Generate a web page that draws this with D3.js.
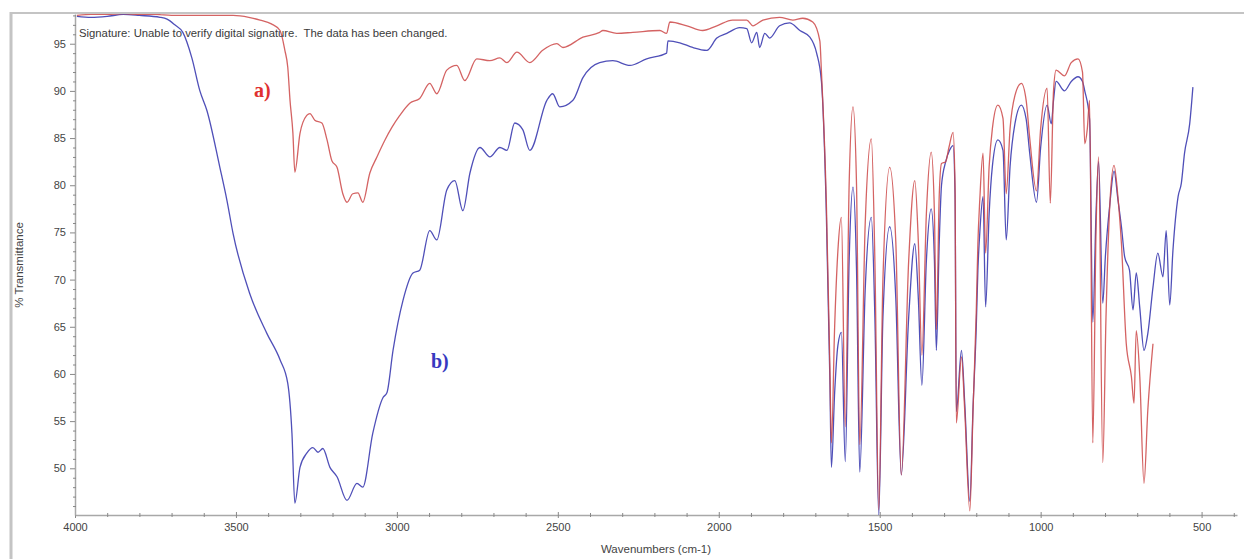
<!DOCTYPE html>
<html>
<head>
<meta charset="utf-8">
<script src="https://cdn.jsdelivr.net/npm/d3@7"></script>
<style>
  body { margin: 0; background: #fff; }
  svg { display: block; }
</style>
</head>
<body>
<div id="chart"></div>
<script>
// spectrum a) - red trace, [wavenumber, %T]
const spectrumA = [
  [3994, 98.0], [3950, 98.1], [3900, 98.1], [3850, 98.2], [3800, 98.1], [3750, 98.1],
  [3700, 98.0], [3600, 98.0], [3509, 98.0], [3460, 97.8], [3425, 97.5], [3390, 97.1],
  [3363, 96.4], [3348, 94.3], [3339, 92.5], [3332, 89.0], [3323, 85.5], [3317, 81.4],
  [3301, 85.5], [3280, 87.4], [3270, 87.6], [3255, 86.9], [3233, 86.6], [3217, 84.8],
  [3202, 82.6], [3186, 81.9], [3168, 79.1], [3155, 78.2], [3137, 79.1], [3121, 79.2],
  [3106, 78.2], [3084, 81.3], [3062, 83.0], [3037, 84.8], [3016, 86.1], [2991, 87.4],
  [2960, 88.7], [2929, 89.2], [2898, 90.8], [2876, 89.7], [2845, 92.2], [2814, 92.7],
  [2789, 91.1], [2752, 93.4], [2711, 93.2], [2680, 93.5], [2658, 93.0], [2627, 94.1],
  [2587, 93.0], [2547, 94.3], [2503, 95.0], [2484, 94.6], [2422, 95.7], [2370, 96.2],
  [2360, 96.4], [2317, 96.1], [2267, 96.2], [2183, 96.4], [2162, 96.1], [2152, 97.3],
  [2099, 96.9], [2050, 96.4], [2006, 96.9], [1957, 97.5], [1913, 97.5], [1894, 96.9],
  [1863, 97.5], [1811, 97.8], [1770, 97.5], [1739, 97.7], [1708, 97.3], [1686, 95.3],
  [1681, 92.0], [1666, 78.5], [1655, 61.0], [1650, 52.7], [1640, 65.0], [1630, 73.0],
  [1619, 76.6], [1607, 54.4], [1595, 80.0], [1583, 88.3], [1572, 80.0], [1562, 52.5],
  [1545, 76.0], [1526, 84.9], [1515, 72.0], [1503, 45.6], [1490, 70.0], [1469, 81.9],
  [1450, 74.0], [1433, 49.3], [1410, 72.0], [1391, 80.5], [1380, 74.0], [1369, 62.0],
  [1355, 77.0], [1340, 83.5], [1330, 77.0], [1324, 64.7], [1315, 79.0], [1308, 82.3],
  [1295, 82.5], [1285, 84.0], [1272, 85.6], [1266, 80.0], [1262, 54.8], [1246, 61.8],
  [1236, 56.2], [1220, 45.5], [1210, 56.2], [1200, 66.7], [1195, 73.8], [1189, 78.5],
  [1179, 83.4], [1171, 72.8], [1160, 82.0], [1150, 86.0], [1133, 88.5], [1117, 87.1],
  [1107, 79.1], [1095, 86.0], [1080, 89.5], [1060, 90.8], [1045, 89.0], [1034, 85.0],
  [1013, 79.4], [1000, 86.0], [980, 90.3], [970, 78.1], [960, 90.0], [952, 92.2],
  [926, 91.6], [905, 93.0], [884, 93.4], [870, 92.0], [863, 84.4], [855, 86.0],
  [848, 89.0], [838, 52.7], [828, 75.0], [820, 83.0], [807, 50.6], [797, 66.0],
  [785, 78.0], [772, 82.1], [760, 78.8], [749, 73.8], [734, 63.2], [718, 59.7],
  [710, 56.9], [703, 64.6], [692, 59.7], [679, 48.4], [667, 56.2], [651, 63.2]
];

// spectrum b) - blue trace, [wavenumber, %T]
const spectrumB = [
  [3994, 97.9], [3950, 97.8], [3900, 97.9], [3850, 98.1], [3800, 98.0], [3736, 97.8],
  [3714, 97.6], [3690, 97.0], [3665, 96.2], [3637, 93.5], [3612, 90.0], [3590, 87.9],
  [3550, 81.9], [3528, 78.4], [3509, 74.9], [3457, 68.5], [3404, 64.3], [3363, 61.5],
  [3339, 59.0], [3326, 53.7], [3317, 46.3], [3301, 50.1], [3280, 51.6], [3261, 52.2],
  [3245, 51.7], [3230, 52.1], [3208, 50.1], [3186, 49.1], [3155, 46.6], [3124, 48.4],
  [3106, 48.0], [3075, 53.7], [3043, 57.5], [3031, 58.0], [3012, 62.5], [2981, 67.8],
  [2950, 70.7], [2929, 71.0], [2898, 75.2], [2876, 74.2], [2845, 79.5], [2820, 80.5],
  [2795, 77.3], [2773, 81.3], [2742, 84.0], [2711, 83.0], [2680, 84.0], [2658, 83.7],
  [2634, 86.6], [2609, 85.9], [2587, 83.7], [2534, 89.0], [2516, 89.7], [2494, 88.3],
  [2453, 89.0], [2422, 91.4], [2370, 93.0], [2329, 93.2], [2276, 92.7], [2224, 93.4],
  [2162, 94.0], [2158, 95.3], [2121, 95.1], [2081, 94.6], [2037, 94.3], [2006, 95.6],
  [1975, 96.1], [1935, 96.7], [1913, 96.6], [1898, 95.1], [1882, 96.2], [1873, 94.6],
  [1857, 96.1], [1842, 95.6], [1811, 96.9], [1780, 97.2], [1748, 96.4], [1717, 95.7],
  [1696, 94.0], [1681, 91.0], [1666, 77.3], [1655, 59.7], [1650, 50.1], [1640, 58.0],
  [1630, 63.0], [1619, 64.4], [1607, 50.7], [1595, 72.0], [1583, 79.8], [1572, 71.0],
  [1562, 49.6], [1545, 69.0], [1526, 76.6], [1515, 66.0], [1503, 45.0], [1490, 66.0],
  [1469, 75.6], [1450, 68.0], [1433, 49.3], [1410, 66.0], [1391, 73.8], [1380, 68.0],
  [1369, 58.8], [1355, 72.0], [1340, 77.5], [1330, 72.0], [1324, 62.5], [1315, 74.0],
  [1308, 80.0], [1295, 82.5], [1283, 83.7], [1272, 84.2], [1266, 79.0], [1262, 56.0],
  [1246, 62.5], [1236, 57.0], [1220, 46.5], [1210, 56.5], [1200, 65.0], [1195, 71.0],
  [1189, 75.0], [1179, 78.8], [1171, 67.1], [1160, 77.0], [1150, 82.0], [1133, 84.8],
  [1117, 83.7], [1107, 74.2], [1095, 82.0], [1080, 86.5], [1060, 88.5], [1045, 87.0],
  [1034, 83.4], [1013, 78.2], [1000, 84.0], [980, 88.5], [967, 86.5], [960, 89.0],
  [952, 91.0], [926, 90.0], [905, 91.0], [884, 91.5], [870, 91.0], [863, 90.0],
  [848, 87.0], [838, 65.5], [828, 77.0], [820, 82.5], [807, 67.5], [799, 72.4],
  [785, 78.0], [772, 81.5], [760, 78.5], [749, 75.6], [739, 72.4], [724, 71.0],
  [713, 66.8], [703, 70.7], [692, 67.0], [679, 62.5], [667, 64.3], [651, 69.2],
  [636, 72.8], [620, 70.3], [610, 75.2], [599, 67.3], [589, 73.1], [573, 78.8],
  [563, 80.2], [553, 83.4], [537, 86.5], [527, 90.4]
];

const xMajor = [4000, 3500, 3000, 2500, 2000, 1500, 1000, 500];
const xMinor = d3.range(4000, 390, -100).filter(v => v % 500 !== 0);
const yMajor = [50, 55, 60, 65, 70, 75, 80, 85, 90, 95];
const yMinor = d3.range(46, 99, 1).filter(v => v % 5 !== 0);

const signatureText = "Signature: Unable to verify digital signature.\u00a0 The data has been changed.";

// set the dimensions
const width = 1244, height = 559;
const plot = {left: 75, right: 1237, top: 14, bottom: 515};
const sans = "'Liberation Sans', Arial, sans-serif";

const svg = d3.select("#chart").append("svg")
  .attr("width", width)
  .attr("height", height);

// panel border
svg.append("line")
  .attr("x1", 10).attr("x2", width).attr("y1", 13).attr("y2", 13)
  .attr("stroke", "#c4c4c4").attr("stroke-width", 2);
svg.append("line")
  .attr("x1", 11).attr("x2", 11).attr("y1", 12).attr("y2", height)
  .attr("stroke", "#c4c4c4").attr("stroke-width", 3);

const x = d3.scaleLinear().domain([4000, 390]).range([plot.left, plot.right]);
const y = d3.scaleLinear().domain([45.05, 98.15]).range([plot.bottom, plot.top]);

svg.append("clipPath").attr("id", "clip")
  .append("rect")
  .attr("x", plot.left).attr("y", plot.top)
  .attr("width", plot.right - plot.left).attr("height", plot.bottom - plot.top);

// x axis
const xAxis = svg.append("g")
  .attr("transform", `translate(0,${plot.bottom})`)
  .call(d3.axisBottom(x).tickValues(xMajor).tickFormat(d3.format("d"))
    .tickSize(3).tickSizeOuter(0).tickPadding(5));
xAxis.selectAll(".tick line").attr("y1", -3);

svg.append("g")
  .attr("transform", `translate(0,${plot.bottom})`)
  .call(d3.axisBottom(x).tickValues(xMinor).tickSize(2).tickFormat(""))
  .call(g => g.select(".domain").remove())
  .selectAll(".tick line").attr("y1", -2);

// y axis
const yAxis = svg.append("g")
  .attr("transform", `translate(${plot.left},0)`)
  .call(d3.axisLeft(y).tickValues(yMajor).tickFormat(d3.format("d"))
    .tickSize(5).tickSizeOuter(0).tickPadding(4));

svg.append("g")
  .attr("transform", `translate(${plot.left},0)`)
  .call(d3.axisLeft(y).tickValues(yMinor).tickSize(2).tickFormat(""))
  .call(g => g.select(".domain").remove())
  .selectAll(".tick line").attr("x1", 1);

svg.selectAll(".domain")
  .attr("stroke", "#a8a8a8")
  .attr("stroke-width", 1.5);
svg.selectAll(".tick line").attr("stroke", "#888");
svg.selectAll(".tick text")
  .attr("fill", "#444")
  .style("font-family", sans)
  .style("font-size", "11px");

// spectra
const line = d3.line()
  .x(d => x(d[0]))
  .y(d => y(d[1]))
  .curve(d3.curveMonotoneX);

const traces = svg.append("g").attr("clip-path", "url(#clip)");

traces.append("path")
  .datum(spectrumB)
  .attr("fill", "none")
  .attr("stroke", "#3c3cb0")
  .attr("stroke-width", 1.3)
  .attr("stroke-opacity", 0.9)
  .attr("d", line);

traces.append("path")
  .datum(spectrumA)
  .attr("fill", "none")
  .attr("stroke", "#cc4848")
  .attr("stroke-width", 1.3)
  .attr("stroke-opacity", 0.85)
  .attr("d", line);

// texts
svg.append("text")
  .attr("x", 79)
  .attr("y", 37)
  .attr("fill", "#3a3a3a")
  .style("font-family", sans)
  .style("font-size", "11.3px")
  .text(signatureText);

svg.append("text")
  .attr("transform", "translate(23,265) rotate(-90)")
  .attr("text-anchor", "middle")
  .attr("fill", "#444")
  .style("font-family", sans)
  .style("font-size", "11.5px")
  .text("% Transmittance");

svg.append("text")
  .attr("x", (plot.left + plot.right) / 2)
  .attr("y", 553)
  .attr("text-anchor", "middle")
  .attr("fill", "#444")
  .style("font-family", sans)
  .style("font-size", "11.5px")
  .text("Wavenumbers (cm-1)");

svg.append("text")
  .attr("x", 254)
  .attr("y", 97)
  .attr("fill", "#e03030")
  .style("font-family", "'Liberation Serif', 'DejaVu Serif', serif")
  .style("font-weight", "bold")
  .style("font-size", "20px")
  .text("a)");

svg.append("text")
  .attr("x", 431)
  .attr("y", 368)
  .attr("fill", "#3838c0")
  .style("font-family", "'Liberation Serif', 'DejaVu Serif', serif")
  .style("font-weight", "bold")
  .style("font-size", "20px")
  .text("b)");
</script>
</body>
</html>
